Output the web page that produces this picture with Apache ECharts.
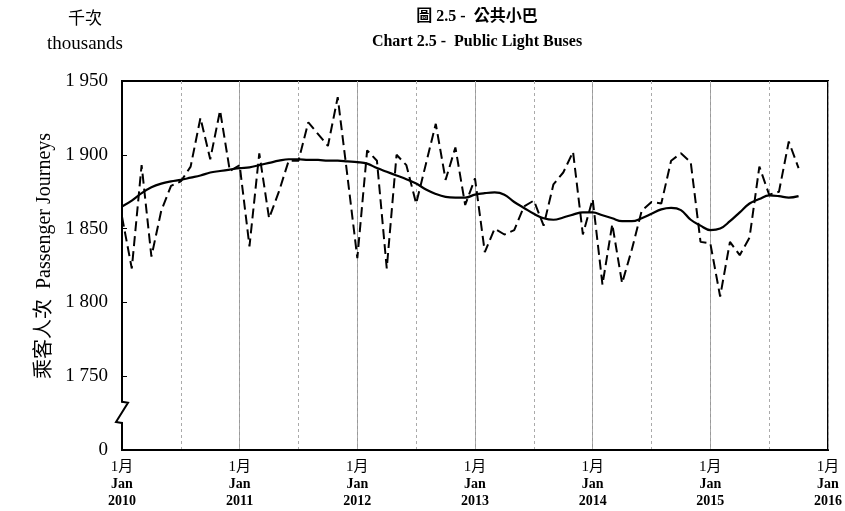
<!DOCTYPE html>
<html><head><meta charset="utf-8">
<script src="https://cdn.jsdelivr.net/npm/echarts@6/dist/echarts.min.js"></script>
<style>html,body{margin:0;padding:0;background:#fff}#c{width:845px;height:511px}</style>
</head><body><div id="c"></div>
<script>
// Data (thousands of passenger journeys), monthly from Jan 2010
const startYear = 2010;
const journeys = [
  1858, 1823, 1893, 1831, 1862, 1879, 1882, 1892, 1925, 1897, 1930, 1889,
  1893, 1838, 1901, 1857, 1875, 1896, 1896, 1922, 1914, 1906, 1939, 1885,
  1830, 1903, 1896, 1823, 1900, 1893, 1867, 1894, 1921, 1883, 1905, 1866,
  1884, 1834, 1850, 1846, 1849, 1865, 1869, 1852, 1880, 1888, 1902, 1846,
  1870, 1812, 1853, 1813, 1836, 1862, 1868, 1867, 1896, 1901, 1895, 1841,
  1840, 1804, 1841, 1832, 1844, 1892, 1873, 1875, 1909, 1891
];
const trend = [
  1865, 1869, 1874, 1878, 1880.5, 1882, 1883, 1884.5, 1886, 1888, 1889, 1890,
  1891, 1891.5, 1893, 1894.5, 1896, 1897, 1897, 1896.5, 1896.5, 1896, 1896, 1895.5,
  1895, 1894, 1891, 1888.5, 1886, 1883.5, 1880.5, 1876.5, 1873.5, 1871.5, 1871, 1871,
  1873, 1874, 1874.5, 1873, 1868, 1864, 1860, 1857, 1856, 1857.5, 1859.5, 1861,
  1861, 1859, 1857, 1855, 1855, 1857, 1860, 1863, 1864, 1862.5, 1856, 1852,
  1849, 1850, 1855, 1861, 1867, 1870, 1872.5, 1872, 1871, 1872
];
const yMin = 1700, yMax = 1950, yStep = 50;   // 1700 position is shown as "0" (broken axis)
const breakRange = [1719, 1732];
const xMonths = 72;

const serif = "'Liberation Serif','Times New Roman','Noto Sans CJK TC',serif";
const fmtNum = v => String(v).replace(/\B(?=(\d{3})+(?!\d))/g, ' ');

const chart = echarts.init(document.getElementById('c'));
chart.setOption({
  animation: false,
  grid: {left: 122, right: 16, top: 81, bottom: 61, show: true, borderColor: '#000', borderWidth: 2},
  xAxis: [{
    type: 'value', min: 0, max: xMonths, interval: 12, position: 'bottom',
    axisLine: {show: true, lineStyle: {color: '#000', width: 2}},
    axisTick: {show: false},
    splitLine: {show: true, lineStyle: {color: '#999', width: 1}},
    axisLabel: {
      margin: 8, color: '#000',
      formatter: v => '{a|1月}\n{b|Jan}\n{b|' + (startYear + v / 12) + '}',
      rich: {
        a: {fontSize: 15, fontFamily: serif, lineHeight: 18, color: '#000'},
        b: {fontSize: 14, fontWeight: 'bold', fontFamily: serif, lineHeight: 17, color: '#000'}
      }
    }
  }, {
    type: 'value', min: 0, max: xMonths, interval: 6, position: 'top',
    axisLine: {show: false}, axisTick: {show: false}, axisLabel: {show: false},
    splitLine: {show: true, lineStyle: {color: '#aaa', width: 1, type: [3, 3]}}
  }],
  yAxis: {
    type: 'value', min: yMin, max: yMax, interval: yStep,
    axisLine: {show: true, lineStyle: {color: '#000', width: 2}},
    axisTick: {show: true, inside: true, length: 5, lineStyle: {color: '#000', width: 1}},
    splitLine: {show: false},
    axisLabel: {
      margin: 14, color: '#000', fontSize: 19, fontFamily: serif,
      formatter: v => v === yMin ? '0' : fmtNum(v)
    }
  },
  series: [{
    type: 'line', name: 'journeys', xAxisIndex: 0,
    data: journeys.map((v, i) => [i, v]),
    showSymbol: false, symbol: 'none',
    lineStyle: {color: '#000', width: 2, type: [10, 5]}
  }, {
    type: 'line', name: 'trend', xAxisIndex: 0,
    data: trend.map((v, i) => [i, v]),
    showSymbol: false, symbol: 'none', smooth: 0.4,
    lineStyle: {color: '#000', width: 2.2}
  }]
});

const x0 = chart.convertToPixel({xAxisIndex: 0}, 0);
const yb1 = chart.convertToPixel({yAxisIndex: 0}, breakRange[1]);
const yb2 = chart.convertToPixel({yAxisIndex: 0}, breakRange[0]);
chart.setOption({
  graphic: [
    {type: 'rect', z: 100, shape: {x: x0 - 4, y: yb1, width: 8, height: yb2 - yb1}, style: {fill: '#fff'}},
    {type: 'polyline', z: 101, shape: {points: [[x0, yb1 - 1], [x0 + 6, yb1], [x0 - 6, yb2], [x0, yb2 + 1]]},
      style: {stroke: '#000', lineWidth: 2, fill: null}},
    {type: 'text', left: null, x: 477, y: 17, z: 100,
      style: {text: '圖 2.5 -  公共小巴', font: "bold 16px " + serif, fill: '#000', textAlign: 'center', textVerticalAlign: 'middle'}},
    {type: 'text', x: 477, y: 42, z: 100,
      style: {text: 'Chart 2.5 -  Public Light Buses', font: "bold 16px " + serif, fill: '#000', textAlign: 'center', textVerticalAlign: 'middle'}},
    {type: 'text', x: 85, y: 20, z: 100,
      style: {text: '千次', font: "17px " + serif, fill: '#000', textAlign: 'center', textVerticalAlign: 'middle'}},
    {type: 'text', x: 85, y: 44, z: 100,
      style: {text: 'thousands', font: "19px " + serif, fill: '#000', textAlign: 'center', textVerticalAlign: 'middle'}},
    {type: 'text', x: 45, y: 256, rotation: Math.PI / 2, z: 100,
      style: {text: '乘客人次  Passenger Journeys', font: "20px " + serif, fill: '#000', textAlign: 'center', textVerticalAlign: 'middle'}}
  ]
});
</script>
</body></html>
